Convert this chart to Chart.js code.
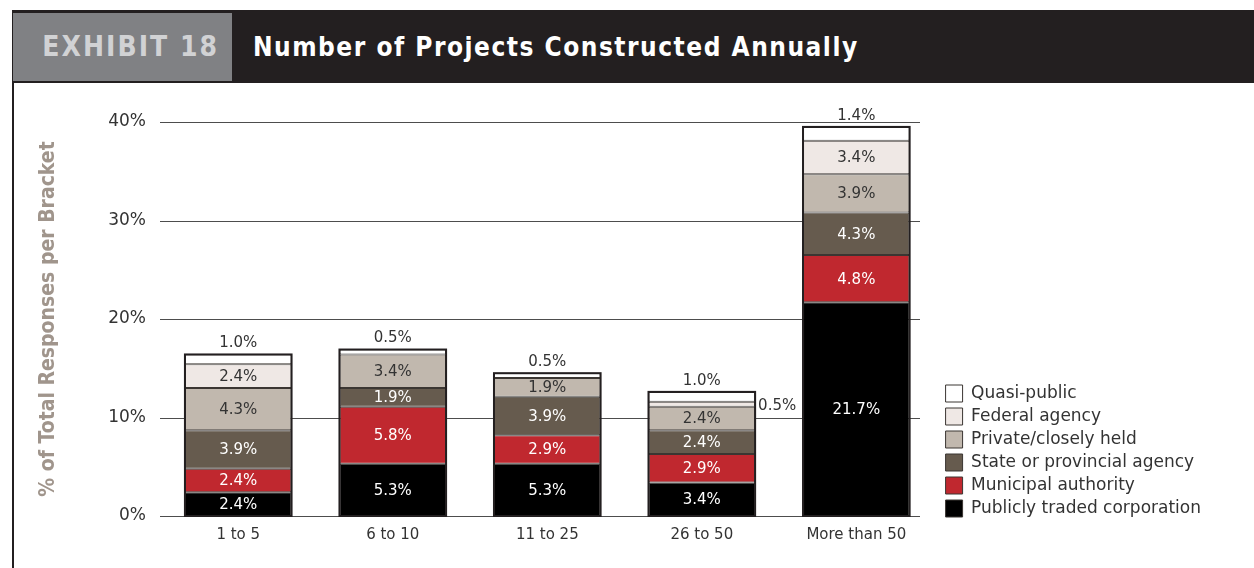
<!DOCTYPE html>
<html>
<head>
<meta charset="utf-8">
<script src="https://cdn.jsdelivr.net/npm/chart.js@4"></script>
<style>
  html, body { margin: 0; padding: 0; background: #fff; }
  body { width: 1254px; height: 568px; position: relative; overflow: hidden; }
  #header { position: absolute; left: 12px; top: 10px; width: 1242px; height: 73px; background: #231f20; }
  #exhibit { position: absolute; left: 1px; top: 3px; width: 219px; height: 68px; background: #808184;
    color: #d1d2d4; font: bold 28px "DejaVu Sans Condensed", "DejaVu Sans", sans-serif; letter-spacing: 2px;
    line-height: 68px; text-align: right; box-sizing: border-box; padding-right: 13px; }
  #title { position: absolute; left: 241px; top: 3px; height: 68px; color: #fff;
    font: bold 26px "DejaVu Sans Condensed", "DejaVu Sans", sans-serif; letter-spacing: 1.5px; line-height: 68px; }
  #leftline { position: absolute; left: 12px; top: 83px; width: 1.5px; height: 485px; background: #231f20; }
  #chart { position: absolute; left: 12px; top: 82px; }
</style>
</head>
<body>
<div id="header">
  <div id="exhibit">EXHIBIT 18</div>
  <div id="title">Number of Projects Constructed Annually</div>
</div>
<div id="leftline"></div>
<canvas id="chart" width="1242" height="486"></canvas>
<script>
  'use strict';

  // data (percent of total responses)
  var categories = ['1 to 5', '6 to 10', '11 to 25', '26 to 50', 'More than 50'];
  var publiclyTraded = [2.4, 5.3, 5.3, 3.4, 21.7];
  var municipal = [2.4, 5.8, 2.9, 2.9, 4.8];
  var stateAgency = [3.9, 1.9, 3.9, 2.4, 4.3];
  var privateHeld = [4.3, 3.4, 1.9, 2.4, 3.9];
  var federal = [2.4, 0, 0, 0.5, 3.4];
  var quasiPublic = [1.0, 0.5, 0.5, 1.0, 1.4];
  var yTicks = [0, 10, 20, 30, 40];

  var colors = {
    publicly: '#000000',
    municipal: '#c0282f',
    state: '#665b4e',
    priv: '#c1b8ae',
    federal: '#efe8e5',
    quasi: '#ffffff',
    edge: '#3b3632',
    frame: '#231f20',
    grid: '#4d4d4d',
    text: '#333333',
    axisTitle: '#a0958c'
  };

  function makeSet(label, data, fill, labelColor) {
    return {
      label: label,
      data: data,
      backgroundColor: fill,
      borderColor: colors.edge,
      borderWidth: 1,
      borderSkipped: false,
      labelColor: labelColor
    };
  }

  var datasets = [
    makeSet('Publicly traded corporation', publiclyTraded, colors.publicly, '#ffffff'),
    makeSet('Municipal authority', municipal, colors.municipal, '#ffffff'),
    makeSet('State or provincial agency', stateAgency, colors.state, '#ffffff'),
    makeSet('Private/closely held', privateHeld, colors.priv, colors.text),
    makeSet('Federal agency', federal, colors.federal, colors.text),
    makeSet('Quasi-public', quasiPublic, colors.quasi, colors.text)
  ];

  // nudge the legend a little right/down from where the layout put it
  var legendNudge = {
    id: 'legendNudge',
    afterLayout: function(chart) {
      var lg = chart.legend;
      if (!lg) return;
      lg.left += 6; lg.right += 6;
      lg.top += 7; lg.bottom += 7;
    }
  };

  // horizontal rules behind the bars
  var gridPlugin = {
    id: 'rules',
    beforeDatasetsDraw: function(chart) {
      var ctx = chart.ctx, y = chart.scales.y;
      ctx.save();
      ctx.strokeStyle = colors.grid;
      ctx.lineWidth = 1;
      yTicks.forEach(function(v) {
        var py = Math.round(y.getPixelForValue(v)) + 0.5;
        ctx.beginPath();
        ctx.moveTo(148, py);
        ctx.lineTo(908, py);
        ctx.stroke();
      });
      ctx.restore();
    }
  };

  // outer frame of each stack + value labels
  var labelPlugin = {
    id: 'valueLabels',
    afterDatasetsDraw: function(chart) {
      var ctx = chart.ctx, y = chart.scales.y;
      var last = chart.data.datasets.length - 1;
      ctx.save();

      var baseMeta = chart.getDatasetMeta(0);
      categories.forEach(function(c, i) {
        var total = 0;
        chart.data.datasets.forEach(function(ds) { total += ds.data[i]; });
        var el = baseMeta.data[i];
        var top = y.getPixelForValue(total);
        var bottom = y.getPixelForValue(0);
        ctx.strokeStyle = colors.frame;
        ctx.lineWidth = 2;
        ctx.strokeRect(el.x - el.width / 2, top, el.width, bottom - top);
      });

      ctx.font = '15px "DejaVu Sans", sans-serif';
      ctx.textBaseline = 'middle';
      chart.data.datasets.forEach(function(ds, di) {
        var meta = chart.getDatasetMeta(di);
        meta.data.forEach(function(el, i) {
          var v = ds.data[i];
          if (!v) return;
          var txt = v.toFixed(1) + '%';
          var h = el.base - el.y;
          if (di === last) {
            ctx.fillStyle = colors.text;
            ctx.textAlign = 'center';
            ctx.fillText(txt, el.x, el.y - 11);
          } else if (h < 12) {
            ctx.fillStyle = colors.text;
            ctx.textAlign = 'left';
            ctx.fillText(txt, el.x + el.width / 2 + 3, (el.y + el.base) / 2 + 2);
          } else {
            ctx.fillStyle = ds.labelColor;
            ctx.textAlign = 'center';
            ctx.fillText(txt, el.x, (el.y + el.base) / 2 + 1);
          }
        });
      });
      ctx.restore();
    }
  };

  new Chart(document.getElementById('chart').getContext('2d'), {
    type: 'bar',
    data: { labels: categories, datasets: datasets },
    plugins: [legendNudge, gridPlugin, labelPlugin],
    options: {
      responsive: false,
      animation: false,
      devicePixelRatio: 1,
      layout: { padding: { top: 40, right: 49, bottom: 0, left: 0 } },
      datasets: { bar: { categoryPercentage: 1, barPercentage: 0.69 } },
      plugins: {
        tooltip: { enabled: false },
        legend: {
          position: 'right',
          align: 'end',
          fullSize: false,
          reverse: true,
          labels: {
            boxWidth: 17,
            boxHeight: 17,
            padding: 6,
            color: colors.text,
            font: { family: '"DejaVu Sans", sans-serif', size: 17 }
          }
        }
      },
      scales: {
        x: {
          stacked: true,
          grid: { display: false, drawTicks: false },
          border: { display: false },
          ticks: { color: colors.text, padding: 10, font: { family: '"DejaVu Sans", sans-serif', size: 15 } },
          afterFit: function(s) { s.height = 52; }
        },
        y: {
          stacked: true,
          min: 0,
          max: 40,
          afterBuildTicks: function(s) { s.ticks = yTicks.map(function(v) { return { value: v }; }); },
          grid: { display: false, drawTicks: false },
          border: { display: false },
          ticks: {
            color: colors.text,
            padding: 15,
            font: { family: '"DejaVu Sans", sans-serif', size: 17 },
            callback: function(v) { return v + '%'; }
          },
          title: {
            display: true,
            text: '% of Total Responses per Bracket',
            color: colors.axisTitle,
            padding: { top: 24, bottom: 0 },
            font: { family: '"DejaVu Sans Condensed", "DejaVu Sans", sans-serif', size: 21, weight: 'bold' }
          },
          afterFit: function(s) { s.width = 149; }
        }
      }
    }
  });
</script>
</body>
</html>
